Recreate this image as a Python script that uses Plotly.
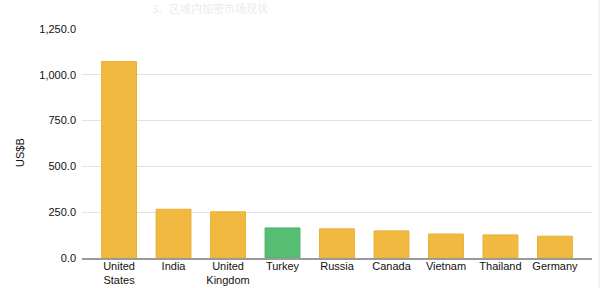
import plotly.graph_objects as go

categories = ["United<br>States", "India", "United<br>Kingdom", "Turkey", "Russia",
              "Canada", "Vietnam", "Thailand", "Germany"]
values = [1072, 266, 252, 164, 159, 148, 131, 126, 119]
highlight = "Turkey"
tick_vals = [0, 250, 500, 750, 1000, 1250]
tick_text = ["0.0", "250.0", "500.0", "750.0", "1,000.0", "1,250.0"]
title_text = "3、区域内加密市场现状"
y_label = "US$B"

yellow = "#F1B940"
green = "#57BD72"
colors = [green if c == highlight else yellow for c in categories]
lines = ["#E9B033" if c != highlight else "#4CB066" for c in categories]

fig = go.Figure(go.Bar(
    x=list(range(len(categories))), y=values,
    marker=dict(color=colors, line=dict(color=lines, width=1)),
    width=0.64,
))

font = "Liberation Sans, Arial, Helvetica, sans-serif"
fig.update_layout(
    width=600, height=288,
    margin=dict(l=82, r=8, t=29, b=30),
    paper_bgcolor="white", plot_bgcolor="white",
    showlegend=False,
    font=dict(family=font, size=11, color="#111111"),
    xaxis=dict(
        tickmode="array", tickvals=list(range(len(categories))), ticktext=categories,
        range=[-0.68, 8.68], showgrid=False, zeroline=False, automargin=False,
        showline=True, linecolor="#9a9a9a", linewidth=1.5,
        ticks="", ticklabelstandoff=-3, tickfont=dict(size=11, color="#111111"),
    ),
    yaxis=dict(
        range=[0, 1250], tickmode="array", tickvals=tick_vals, ticktext=tick_text,
        showgrid=True, gridcolor="#e2e2e2", gridwidth=1, zeroline=False, automargin=False,
        ticks="", ticklen=0, ticklabelstandoff=5, tickfont=dict(size=11, color="#111111"),
    ),
    annotations=[
        dict(text=title_text, xref="paper", yref="paper", x=(210 - 82) / 510, y=1.0,
             yshift=21, showarrow=False, xanchor="center", yanchor="middle",
             font=dict(size=11, color="#ececec", family="Noto Sans CJK SC")),
        dict(text=y_label, xref="paper", yref="paper", x=(20 - 82) / 510, y=(258 - 153) / 229,
             showarrow=False, textangle=-90, xanchor="center", yanchor="middle",
             font=dict(size=11, color="#111111")),
    ],
    shapes=[
        dict(type="line", xref="paper", yref="paper", x0=(599 - 82) / 510, x1=(599 - 82) / 510,
             y0=-30 / 229, y1=1 + 29 / 229, line=dict(color="#e6e6e6", width=1)),
    ],
)

fig.write_html("out.html")
